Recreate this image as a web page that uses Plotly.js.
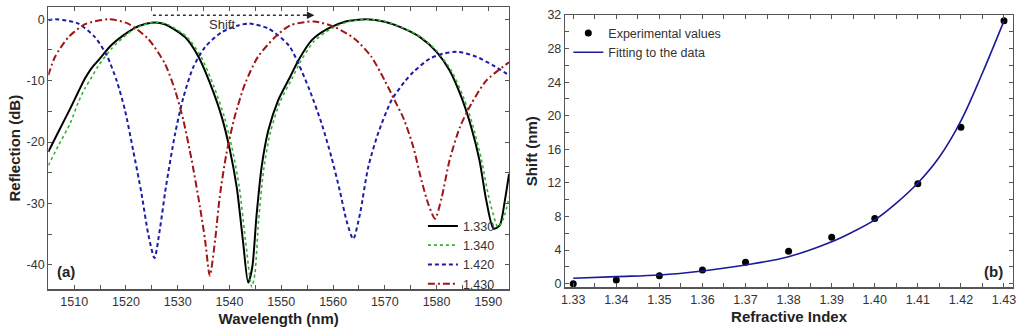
<!DOCTYPE html>
<html>
<head>
<meta charset="utf-8">
<script src="https://cdn.plot.ly/plotly-3.0.1.min.js"></script>
<style>html,body{margin:0;padding:0;background:#fff;}#chart{width:1024px;height:334px;}</style>
</head>
<body>
<div id="chart"></div>
<script>
// ---- Panel (a): reflection spectra ----
const wl_1330 = [1505,1506.9,1509.2,1510.8,1512.1,1513.4,1514.65,1517.2,1520.4,1522.5,1525.0,1527.5,1531.4,1534.0,1536.5,1538.5,1540.1,1541.4,1542.6,1543.6,1544.4,1545.2,1546.2,1547.5,1549.4,1551.7,1553.3,1555.9,1559.1,1562.3,1566.5,1570.0,1572.9,1576.8,1580.0,1582.5,1584.8,1586.7,1588.3,1589.6,1591.0,1592.2,1593.2,1594.0];
const r_1330 = [-21.6,-18.4,-14.6,-11.8,-9.6,-7.9,-6.7,-4.2,-2.1,-1.1,-0.55,-0.8,-2.9,-6.1,-11.0,-15.9,-21.4,-27.4,-36.1,-42.9,-40.4,-32.2,-24.1,-18.1,-13.2,-9.4,-6.7,-3.4,-1.5,-0.4,0,-0.4,-1.25,-2.9,-5.3,-8.3,-12.7,-17.6,-23.0,-29.5,-34.1,-33.6,-29.5,-25.2];

const wl_1340 = [1505,1507.0,1509.2,1510.8,1512.1,1513.4,1514.65,1517.2,1520.4,1522.5,1525.3,1527.9,1531.8,1534.5,1537.0,1539.0,1540.6,1541.9,1543.1,1544.3,1544.9,1545.6,1546.6,1547.9,1549.8,1552.1,1553.7,1556.3,1559.5,1562.7,1566.7,1570.2,1573.1,1577.0,1580.2,1582.8,1585.2,1587.1,1588.7,1590.1,1591.9,1593.0,1594.0];
const r_1340 = [-23.8,-20.5,-17.0,-13.5,-11.2,-9.4,-7.6,-4.8,-2.3,-1.2,-0.5,-0.8,-2.9,-6.1,-11.0,-15.9,-21.4,-27.4,-36.1,-43.6,-41.5,-33.0,-24.5,-18.4,-13.4,-9.6,-6.9,-3.6,-1.6,-0.45,0,-0.4,-1.25,-2.9,-5.3,-8.3,-12.7,-17.6,-23.0,-29.0,-33.9,-32.3,-29.0];

const wl_1420 = [1505,1506.3,1508.5,1510.8,1514.0,1516.3,1518.2,1519.8,1521.4,1523.0,1524.3,1525.5,1526.6,1527.7,1529.5,1531.1,1533.0,1535.3,1538.5,1541.7,1543.8,1547.5,1551.5,1553.3,1555.5,1557.8,1559.7,1561.3,1562.6,1563.9,1565.2,1566.8,1568.7,1571.3,1573.8,1575.5,1578.7,1581.3,1584.2,1587.7,1590.9,1594.0];
const r_1420 = [-0.15,0,-0.2,-0.7,-2.9,-5.9,-10.0,-14.8,-21.4,-28.4,-35.0,-38.9,-33.9,-27.4,-18.6,-12.7,-7.8,-4.5,-2.1,-1.0,-0.7,-1.5,-4.3,-7.2,-11.6,-17.0,-22.5,-27.9,-32.8,-35.8,-31.7,-24.1,-18.6,-13.2,-10.2,-8.6,-6.4,-5.6,-5.3,-6.1,-7.5,-9.1];

const wl_1430 = [1505,1506.3,1508.9,1512.1,1516.6,1520.4,1524.3,1527.5,1529.5,1531.1,1532.7,1534.3,1535.3,1536.2,1537.2,1538.1,1539.4,1541.0,1543.0,1545.5,1548.8,1551.7,1556.3,1560.3,1564.2,1567.4,1570.0,1571.9,1573.7,1575.5,1577.1,1578.4,1579.7,1581.0,1582.5,1584.5,1586.7,1589.6,1594.0];
const r_1430 = [-9.1,-6.1,-2.9,-0.8,0,-0.7,-3.2,-7.2,-11.6,-16.5,-23.0,-30.6,-36.1,-41.8,-36.1,-29.0,-21.9,-15.9,-10.5,-6.1,-2.9,-1.0,-0.35,-1.25,-3.2,-6.1,-10.0,-13.2,-16.3,-20.8,-26.3,-30.1,-32.5,-29.0,-23.0,-17.6,-13.8,-10.0,-7.0];

const seriesNames = ['1.330','1.340','1.420','1.430'];

// tick positions / labels for panel (a)
const wlTicks = [1505,1510,1515,1520,1525,1530,1535,1540,1545,1550,1555,1560,1565,1570,1575,1580,1585,1590];
const wlTickText = ['','1510','','1520','','1530','','1540','','1550','','1560','','1570','','1580','','1590'];
const dbTicks = [-40,-35,-30,-25,-20,-15,-10,-5,0];
const dbTickText = ['-40','','-30','','-20','','-10','','0'];

// ---- Panel (b): shift vs refractive index ----
const ri_exp = [1.33,1.34,1.35,1.36,1.37,1.38,1.39,1.40,1.41,1.42,1.43];
const shift_exp = [0.0,0.44,0.96,1.64,2.55,3.86,5.54,7.76,11.9,18.63,31.33];
const ri_fit = [1.33,1.34,1.35,1.36,1.37,1.38,1.39,1.395,1.40,1.405,1.41,1.415,1.42,1.425,1.43];
const shift_fit = [0.64,0.84,1.04,1.52,2.23,3.22,5.0,6.2,7.6,9.6,12.0,15.1,19.4,25.1,31.3];

const riTicks = [1.33,1.335,1.34,1.345,1.35,1.355,1.36,1.365,1.37,1.375,1.38,1.385,1.39,1.395,1.40,1.405,1.41,1.415,1.42,1.425,1.43];
const riTickText = ['1.33','','1.34','','1.35','','1.36','','1.37','','1.38','','1.39','','1.40','','1.41','','1.42','','1.43'];
const shTicks = [0,2,4,6,8,10,12,14,16,18,20,22,24,26,28,30,32];
const shTickText = ['0','','4','','8','','12','','16','','20','','24','','28','','32'];

const fontFam = 'Arial, "Liberation Sans", Helvetica, sans-serif';
const sm = 0.7;

const traces = [
  {x: wl_1330, y: r_1330, name: seriesNames[0], mode:'lines', line:{color:'#000000', width:2, shape:'spline', smoothing:sm}, xaxis:'x', yaxis:'y', legend:'legend'},
  {x: wl_1340, y: r_1340, name: seriesNames[1], mode:'lines', line:{color:'#2fb52f', width:1.6, dash:'dot', shape:'spline', smoothing:sm}, xaxis:'x', yaxis:'y', legend:'legend'},
  {x: wl_1420, y: r_1420, name: seriesNames[2], mode:'lines', line:{color:'#1c1ca8', width:2, dash:'4px,3px', shape:'spline', smoothing:sm}, xaxis:'x', yaxis:'y', legend:'legend'},
  {x: wl_1430, y: r_1430, name: seriesNames[3], mode:'lines', line:{color:'#a01515', width:2, dash:'7px,3px,2px,3px', shape:'spline', smoothing:sm}, xaxis:'x', yaxis:'y', legend:'legend'},
  {x: ri_exp, y: shift_exp, name:'Experimental values', mode:'markers', marker:{color:'#000', size:7}, xaxis:'x2', yaxis:'y2', legend:'legend2'},
  {x: ri_fit, y: shift_fit, name:'Fitting to the data', mode:'lines', line:{color:'#1a1a96', width:1.6, shape:'spline', smoothing:1}, xaxis:'x2', yaxis:'y2', legend:'legend2'}
];

const axCommon = {
  showline:true, linecolor:'#555', linewidth:1.2, mirror:'allticks',
  ticks:'inside', ticklen:4, tickcolor:'#555', tickwidth:1,
  showgrid:false, zeroline:false, tickmode:'array',
  tickfont:{family:fontFam, size:12.5, color:'#333'},
  automargin:false
};

const layout = {
  width:1024, height:334,
  margin:{l:0,r:0,t:0,b:0},
  paper_bgcolor:'#ffffff', plot_bgcolor:'#ffffff',
  font:{family:fontFam, color:'#222'},
  showlegend:true,
  xaxis: Object.assign({}, axCommon, {
    domain:[0.0472,0.4971], anchor:'y', range:[1505,1594],
    tickvals: wlTicks, ticktext: wlTickText,
    title:{text:'<b>Wavelength (nm)</b>', font:{family:fontFam, size:15, color:'#222'}, standoff:6}
  }),
  yaxis: Object.assign({}, axCommon, {
    domain:[0.1338,0.979], anchor:'x', range:[-44,2],
    tickvals: dbTicks, ticktext: dbTickText,
    title:{text:'<b>Reflection (dB)</b>', font:{family:fontFam, size:15, color:'#222'}, standoff:2}
  }),
  xaxis2: Object.assign({}, axCommon, {
    domain:[0.5518,0.9893], anchor:'y2', range:[1.3281,1.4321],
    tickvals: riTicks, ticktext: riTickText,
    title:{text:'<b>Refractive Index</b>', font:{family:fontFam, size:15, color:'#222'}, standoff:6}
  }),
  yaxis2: Object.assign({}, axCommon, {
    domain:[0.1398,0.955], anchor:'x2', range:[-0.43,32],
    tickvals: shTicks, ticktext: shTickText,
    title:{text:'<b>Shift (nm)</b>', font:{family:fontFam, size:15, color:'#222'}, standoff:6}
  }),
  legend:{x:0.413, xanchor:'left', y:0.107, yanchor:'bottom', bgcolor:'rgba(0,0,0,0)',
    font:{family:fontFam, size:12.5, color:'#333'}, tracegroupgap:0, itemwidth:30},
  legend2:{x:0.555, xanchor:'left', y:0.945, yanchor:'top', bgcolor:'rgba(0,0,0,0)',
    font:{family:fontFam, size:12.5, color:'#333'}, tracegroupgap:0, itemwidth:30},
  shapes:[
    {type:'line', xref:'x', yref:'y', x0:1525.2, x1:1555.0, y0:0.65, y1:0.65,
     line:{color:'#333', width:1.5, dash:'dot'}}
  ],
  annotations:[
    {xref:'x', yref:'y', x:1556.4, y:0.65, ax:1554.0, ay:0.65, axref:'x', ayref:'y',
     text:'', showarrow:true, arrowhead:2, arrowsize:1, arrowwidth:1.5, arrowcolor:'#222'},
    {xref:'x', yref:'y', x:1538.5, y:-0.85, text:'Shift', showarrow:false,
     xanchor:'center', yanchor:'middle', font:{family:fontFam, size:13, color:'#333'}},
    {xref:'paper', yref:'paper', x:66/1024, y:1-271.5/334, text:'<b>(a)</b>', showarrow:false,
     xanchor:'center', yanchor:'middle', font:{family:fontFam, size:15, color:'#222'}},
    {xref:'paper', yref:'paper', x:993/1024, y:1-271.5/334, text:'<b>(b)</b>', showarrow:false,
     xanchor:'center', yanchor:'middle', font:{family:fontFam, size:15, color:'#222'}}
  ]
};

Plotly.newPlot('chart', traces, layout, {displayModeBar:false, staticPlot:true});
</script>
</body>
</html>
